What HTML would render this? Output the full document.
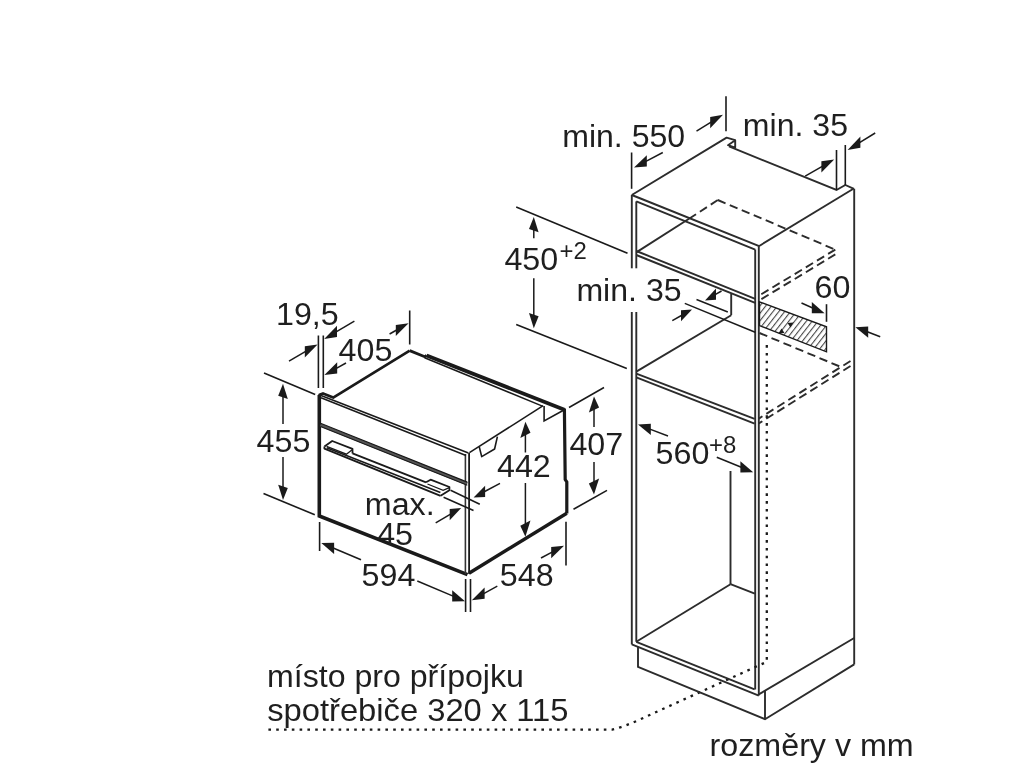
<!DOCTYPE html>
<html lang="cs"><head><meta charset="utf-8"><title>rozměry v mm</title>
<style>
html,body{margin:0;padding:0;background:#fff;}
body{width:1024px;height:768px;overflow:hidden;}
svg{display:block;font-family:"Liberation Sans",sans-serif;fill:#1a1a1a;filter:blur(0.55px);}
svg text{fill:#1f1f1f;}
</style></head><body>
<svg width="1024" height="768" viewBox="0 0 1024 768" fill="none" stroke-linecap="butt">
<path d="M319.3,395 L319.3,516 L467.5,574.6" stroke="#1a1a1a" stroke-width="3.6" fill="none" stroke-linejoin="miter"/>
<path d="M469,573.2 L566.8,513.2" stroke="#1a1a1a" stroke-width="3.4" fill="none" />
<path d="M564.4,408.6 L565.2,479.5 L566.8,482 L566.8,513.6" stroke="#1a1a1a" stroke-width="3.1999999999999997" fill="none" />
<path d="M319.3,396 L319.6,394.8 L323,393.4 L333.2,397.6 L409.7,350.6" stroke="#1a1a1a" stroke-width="2.7" fill="none" stroke-linejoin="round"/>
<path d="M409.7,350.6 L424.8,356.8 L426.6,355.2" stroke="#1a1a1a" stroke-width="2.8" fill="none" stroke-linejoin="round"/>
<path d="M426.6,355.4 L564.4,409.8" stroke="#1a1a1a" stroke-width="3.8" fill="none" />
<line x1="424.6" y1="357.8" x2="542.4" y2="406.1" stroke="#1a1a1a" stroke-width="1.5" />
<path d="M544.1,405.9 L544.1,420.9 L563.5,410.3" stroke="#1a1a1a" stroke-width="1.6" fill="none" />
<line x1="469.4" y1="452.7" x2="543.2" y2="405.7" stroke="#1a1a1a" stroke-width="1.6" />
<line x1="465.4" y1="454" x2="465.4" y2="574" stroke="#333" stroke-width="1.6" />
<line x1="469.1" y1="453" x2="469.1" y2="574" stroke="#1a1a1a" stroke-width="1.8" />
<line x1="321" y1="395.4" x2="468.4" y2="453.0" stroke="#1a1a1a" stroke-width="1.6" />
<line x1="321" y1="397.8" x2="466" y2="455.4" stroke="#1a1a1a" stroke-width="1.6" />
<line x1="320.5" y1="424.9" x2="467.3" y2="483.7" stroke="#555" stroke-width="3.2" />
<line x1="320.5" y1="423.3" x2="467.3" y2="482.1" stroke="#1a1a1a" stroke-width="1.2" />
<line x1="320.5" y1="426.5" x2="467.3" y2="485.3" stroke="#1a1a1a" stroke-width="1.2" />
<path d="M324.4,446.6 L332.2,441 L352.5,448.9 L352.5,453.4" stroke="#1a1a1a" stroke-width="1.8" fill="none" stroke-linejoin="round"/>
<path d="M326.6,446.4 L346.4,454.2 L352.5,449.6" stroke="#1a1a1a" stroke-width="1.3" fill="none" />
<path d="M324.4,446.4 L324.4,448.6 L440.6,495.8" stroke="#1a1a1a" stroke-width="1.8" fill="none" stroke-linejoin="round"/>
<line x1="326.7" y1="447.8" x2="440.4" y2="492.6" stroke="#1a1a1a" stroke-width="1.6" />
<line x1="352.5" y1="453.4" x2="426" y2="482.3" stroke="#1a1a1a" stroke-width="1.8" />
<path d="M426,482.3 L430.6,479.7 L449.4,487 L449.4,490.2 L440.6,495.8" stroke="#1a1a1a" stroke-width="1.8" fill="none" stroke-linejoin="round"/>
<path d="M427.5,484 L443.1,490.4 L449.4,487.6" stroke="#1a1a1a" stroke-width="1.3" fill="none" />
<path d="M479.3,447.0 L481.7,456.6 L494.6,449 L497.4,436.6" stroke="#1a1a1a" stroke-width="1.6" fill="none" stroke-linejoin="round"/>
<line x1="318.4" y1="335.5" x2="318.4" y2="388" stroke="#1a1a1a" stroke-width="1.6" />
<line x1="323.3" y1="335.5" x2="323.3" y2="388" stroke="#1a1a1a" stroke-width="1.6" />
<line x1="289" y1="361.2" x2="305.66" y2="351.41" stroke="#1a1a1a" stroke-width="1.5" />
<polygon points="317.60,344.40 304.80,357.52 304.80,346.32" fill="#1a1a1a"/>
<line x1="354.4" y1="321.2" x2="336.14" y2="331.96" stroke="#1a1a1a" stroke-width="1.5" />
<polygon points="324.20,339.00 337.00,337.06 337.00,325.86" fill="#1a1a1a"/>
<text transform="translate(276.0,325.4) scale(1.04,1)" font-size="31" text-anchor="start">19,5</text>
<line x1="346" y1="363" x2="336.33" y2="368.37" stroke="#1a1a1a" stroke-width="1.5" />
<polygon points="324.40,375.00 337.20,373.49 337.20,362.29" fill="#1a1a1a"/>
<line x1="389.6" y1="334" x2="396.67" y2="329.98" stroke="#1a1a1a" stroke-width="1.5" />
<polygon points="408.60,323.20 395.80,336.08 395.80,324.88" fill="#1a1a1a"/>
<line x1="409.7" y1="310.5" x2="409.7" y2="344.5" stroke="#1a1a1a" stroke-width="1.6" />
<text transform="translate(338.6,361.2) scale(1.04,1)" font-size="31" text-anchor="start">405</text>
<line x1="264" y1="373" x2="315.2" y2="394.5" stroke="#1a1a1a" stroke-width="1.6" />
<line x1="263.5" y1="493.5" x2="314.8" y2="514.8" stroke="#1a1a1a" stroke-width="1.6" />
<line x1="283" y1="424" x2="283.0" y2="396.4" stroke="#1a1a1a" stroke-width="1.5" />
<polygon points="283.00,383.80 287.80,399.10 278.20,395.70" fill="#1a1a1a"/>
<line x1="283" y1="457" x2="283.0" y2="487.4" stroke="#1a1a1a" stroke-width="1.5" />
<polygon points="283.00,500.00 287.80,488.10 278.20,484.70" fill="#1a1a1a"/>
<text transform="translate(256.6,452.2) scale(1.04,1)" font-size="31" text-anchor="start">455</text>
<line x1="319.6" y1="522" x2="319.6" y2="551" stroke="#1a1a1a" stroke-width="1.6" />
<line x1="361" y1="559.8" x2="333.18" y2="548.03" stroke="#1a1a1a" stroke-width="1.5" />
<polygon points="321.30,543.00 334.10,554.02 334.10,542.82" fill="#1a1a1a"/>
<line x1="417.3" y1="581" x2="453.12" y2="596.17" stroke="#1a1a1a" stroke-width="1.5" />
<polygon points="465.00,601.20 452.20,601.38 452.20,590.18" fill="#1a1a1a"/>
<line x1="465.6" y1="579" x2="465.6" y2="612" stroke="#1a1a1a" stroke-width="1.6" />
<line x1="470.5" y1="579" x2="470.5" y2="612" stroke="#1a1a1a" stroke-width="1.6" />
<text transform="translate(361.6,586.0) scale(1.04,1)" font-size="31" text-anchor="start">594</text>
<line x1="497.3" y1="586.2" x2="483.72" y2="593.65" stroke="#1a1a1a" stroke-width="1.5" />
<polygon points="471.80,600.20 484.60,598.77 484.60,587.57" fill="#1a1a1a"/>
<line x1="541" y1="558" x2="552.08" y2="552.12" stroke="#1a1a1a" stroke-width="1.5" />
<polygon points="564.00,545.80 551.20,558.19 551.20,546.99" fill="#1a1a1a"/>
<line x1="566" y1="521.8" x2="566" y2="565.5" stroke="#1a1a1a" stroke-width="1.6" />
<text transform="translate(499.8,586.2) scale(1.04,1)" font-size="31" text-anchor="start">548</text>
<line x1="525.4" y1="452.5" x2="525.4" y2="434.4" stroke="#1a1a1a" stroke-width="1.5" />
<polygon points="525.40,421.80 530.50,432.80 520.30,438.00" fill="#1a1a1a"/>
<line x1="525.4" y1="483" x2="525.4" y2="524.2" stroke="#1a1a1a" stroke-width="1.5" />
<polygon points="525.40,536.80 530.50,520.60 520.30,525.80" fill="#1a1a1a"/>
<text transform="translate(497.0,477.0) scale(1.04,1)" font-size="31" text-anchor="start">442</text>
<line x1="569" y1="407.5" x2="604" y2="387.5" stroke="#1a1a1a" stroke-width="1.6" />
<line x1="573.5" y1="509.2" x2="607" y2="490.4" stroke="#1a1a1a" stroke-width="1.6" />
<line x1="594" y1="427" x2="594.0" y2="409.0" stroke="#1a1a1a" stroke-width="1.5" />
<polygon points="594.00,396.40 599.10,407.40 588.90,412.60" fill="#1a1a1a"/>
<line x1="594" y1="462" x2="594.0" y2="482.0" stroke="#1a1a1a" stroke-width="1.5" />
<polygon points="594.00,494.60 599.10,478.40 588.90,483.60" fill="#1a1a1a"/>
<text transform="translate(569.4,454.6) scale(1.04,1)" font-size="31" text-anchor="start">407</text>
<line x1="450.6" y1="490.3" x2="479.8" y2="504.2" stroke="#1a1a1a" stroke-width="1.5" />
<line x1="443.6" y1="497.3" x2="473.5" y2="510.5" stroke="#1a1a1a" stroke-width="1.5" />
<line x1="500" y1="483.4" x2="484.22" y2="491.77" stroke="#1a1a1a" stroke-width="1.5" />
<polygon points="473.60,497.40 485.10,496.90 485.10,485.70" fill="#1a1a1a"/>
<line x1="435.7" y1="522.8" x2="450.56" y2="514.12" stroke="#1a1a1a" stroke-width="1.5" />
<polygon points="461.20,507.90 449.70,520.22 449.70,509.02" fill="#1a1a1a"/>
<text transform="translate(364.8,515.4) scale(1.04,1)" font-size="31" text-anchor="start">max.</text>
<text transform="translate(377.2,545.4) scale(1.04,1)" font-size="31" text-anchor="start">45</text>
<line x1="631.8" y1="195" x2="631.8" y2="268.3" stroke="#2c2c2c" stroke-width="1.9" />
<line x1="631.8" y1="312" x2="631.8" y2="644.4" stroke="#2c2c2c" stroke-width="1.9" />
<line x1="636.3" y1="201.4" x2="636.3" y2="268.3" stroke="#2c2c2c" stroke-width="1.9" />
<line x1="636.3" y1="312" x2="636.3" y2="641.8" stroke="#2c2c2c" stroke-width="1.9" />
<path d="M631.8,195 L726.6,137.6 L735.2,140.2 L735.2,147.6 L728,145.2 L735.2,140.2" stroke="#2c2c2c" stroke-width="1.9" fill="none" stroke-linejoin="round"/>
<path d="M729,146.4 L836.5,190 L845.3,185 L854,188.8" stroke="#2c2c2c" stroke-width="1.9" fill="none" />
<line x1="631.8" y1="195" x2="759.2" y2="246.2" stroke="#2c2c2c" stroke-width="1.9" />
<line x1="636.3" y1="201.4" x2="755.2" y2="249.6" stroke="#2c2c2c" stroke-width="1.9" />
<line x1="758.8" y1="246.2" x2="853.4" y2="188.8" stroke="#2c2c2c" stroke-width="1.9" />
<line x1="755.2" y1="249.6" x2="755.2" y2="689.6" stroke="#2c2c2c" stroke-width="1.9" />
<line x1="758.8" y1="246.2" x2="758.8" y2="695.6" stroke="#2c2c2c" stroke-width="1.9" />
<line x1="854.2" y1="188.8" x2="854.2" y2="664.4" stroke="#2c2c2c" stroke-width="1.9" />
<line x1="717.8" y1="200" x2="689" y2="218.8" stroke="#2c2c2c" stroke-width="1.9" stroke-dasharray="8.4 4.6"/>
<line x1="717.8" y1="200" x2="835.3" y2="249.6" stroke="#2c2c2c" stroke-width="1.9" stroke-dasharray="8.4 4.6"/>
<line x1="835.3" y1="249.6" x2="759" y2="295.6" stroke="#2c2c2c" stroke-width="1.9" stroke-dasharray="8.4 4.6"/>
<line x1="835.3" y1="254.4" x2="759" y2="300.6" stroke="#2c2c2c" stroke-width="1.9" stroke-dasharray="8.4 4.6"/>
<line x1="636.3" y1="252.4" x2="689" y2="218.8" stroke="#2c2c2c" stroke-width="1.9" />
<line x1="636.3" y1="251" x2="755.2" y2="298.8" stroke="#2c2c2c" stroke-width="1.9" />
<line x1="636.3" y1="255" x2="755.2" y2="302.8" stroke="#2c2c2c" stroke-width="1.9" />
<line x1="731.2" y1="294" x2="731.2" y2="315.2" stroke="#2c2c2c" stroke-width="1.9" />
<line x1="731.2" y1="315.2" x2="636.3" y2="371.6" stroke="#2c2c2c" stroke-width="1.9" />
<line x1="696.5" y1="299.5" x2="727.8" y2="312" stroke="#1a1a1a" stroke-width="1.5" />
<line x1="684.8" y1="303.4" x2="755.2" y2="332.3" stroke="#1a1a1a" stroke-width="1.5" />
<line x1="636.3" y1="373.6" x2="754.6" y2="418.8" stroke="#2c2c2c" stroke-width="1.9" />
<line x1="636.3" y1="377.4" x2="754.6" y2="423.6" stroke="#2c2c2c" stroke-width="1.9" />
<defs><pattern id="h" width="4.6" height="4.6" patternUnits="userSpaceOnUse" patternTransform="rotate(38)"><line x1="0.6" y1="-1" x2="0.6" y2="6" stroke="#2c2c2c" stroke-width="0.95"/></pattern></defs>
<polygon points="759.5,301.8 826.5,326.8 826.5,351.8 759.5,325.6" fill="url(#h)" stroke="#1a1a1a" stroke-width="1.4"/>
<line x1="826.5" y1="304.2" x2="826.5" y2="321.8" stroke="#1a1a1a" stroke-width="1.6" />
<line x1="759.5" y1="333" x2="842" y2="367.4" stroke="#2c2c2c" stroke-width="1.9" stroke-dasharray="8.4 4.6"/>
<line x1="850.5" y1="361" x2="758.8" y2="418.6" stroke="#2c2c2c" stroke-width="1.9" stroke-dasharray="8.4 4.6"/>
<line x1="850.5" y1="366" x2="758.8" y2="423.4" stroke="#2c2c2c" stroke-width="1.9" stroke-dasharray="8.4 4.6"/>
<path d="M268.4,729.6 L612,729.6 Q626,726 640,719.4 L766.8,661.8 L766.8,343" stroke="#1a1a1a" stroke-width="2.3" fill="none" stroke-dasharray="2.6 5.2"/>
<line x1="730.5" y1="471" x2="730.5" y2="584.2" stroke="#2c2c2c" stroke-width="1.9" />
<line x1="636.3" y1="641.8" x2="730.5" y2="584.2" stroke="#2c2c2c" stroke-width="1.9" />
<line x1="730.5" y1="584.2" x2="754.8" y2="593.6" stroke="#2c2c2c" stroke-width="1.9" />
<line x1="631.8" y1="644.4" x2="758.8" y2="695.6" stroke="#2c2c2c" stroke-width="1.9" />
<line x1="636.3" y1="641.8" x2="754.6" y2="689.4" stroke="#2c2c2c" stroke-width="1.9" />
<line x1="758.8" y1="694.4" x2="854.2" y2="638" stroke="#2c2c2c" stroke-width="1.9" />
<path d="M638,646.8 L638,666.8 L765,719.2 L854.2,664.4" stroke="#2c2c2c" stroke-width="1.9" fill="none" />
<line x1="765" y1="691" x2="765" y2="719.2" stroke="#2c2c2c" stroke-width="1.9" />
<line x1="726" y1="96.2" x2="726" y2="131.2" stroke="#1a1a1a" stroke-width="1.6" />
<line x1="631.6" y1="152.5" x2="631.6" y2="188.8" stroke="#1a1a1a" stroke-width="1.6" />
<line x1="696.5" y1="131.2" x2="711.05" y2="122.2" stroke="#1a1a1a" stroke-width="1.5" />
<polygon points="723.00,114.80 710.20,128.32 710.20,117.12" fill="#1a1a1a"/>
<line x1="662.8" y1="152.5" x2="645.91" y2="161.35" stroke="#1a1a1a" stroke-width="1.5" />
<polygon points="634.00,167.60 646.80,166.49 646.80,155.29" fill="#1a1a1a"/>
<text transform="translate(562.2,147.0) scale(1.035,1)" font-size="31" text-anchor="start">min. 550</text>
<line x1="836.5" y1="150" x2="836.5" y2="190" stroke="#1a1a1a" stroke-width="1.6" />
<line x1="845.3" y1="145" x2="845.3" y2="185" stroke="#1a1a1a" stroke-width="1.6" />
<line x1="805.2" y1="176.2" x2="822.27" y2="166.31" stroke="#1a1a1a" stroke-width="1.5" />
<polygon points="834.20,159.40 821.40,172.42 821.40,161.22" fill="#1a1a1a"/>
<line x1="875.2" y1="133" x2="859.55" y2="142.64" stroke="#1a1a1a" stroke-width="1.5" />
<polygon points="847.60,150.00 860.40,147.72 860.40,136.52" fill="#1a1a1a"/>
<text transform="translate(742.8,135.8) scale(1.035,1)" font-size="31" text-anchor="start">min. 35</text>
<line x1="516.2" y1="207" x2="627.5" y2="253.2" stroke="#1a1a1a" stroke-width="1.6" />
<line x1="516.2" y1="324.5" x2="626.8" y2="368.5" stroke="#1a1a1a" stroke-width="1.6" />
<line x1="533.8" y1="238.2" x2="533.8" y2="229.6" stroke="#1a1a1a" stroke-width="1.5" />
<polygon points="533.80,217.00 538.60,232.30 529.00,228.90" fill="#1a1a1a"/>
<line x1="533.8" y1="278.2" x2="533.8" y2="315.6" stroke="#1a1a1a" stroke-width="1.5" />
<polygon points="533.80,328.20 538.60,316.30 529.00,312.90" fill="#1a1a1a"/>
<text transform="translate(504.4,269.8) scale(1.04,1)" font-size="31" text-anchor="start">450</text>
<text transform="translate(559.6,259.0) scale(1.04,1)" font-size="23" text-anchor="start">+2</text>
<line x1="721.5" y1="291" x2="715.13" y2="294.63" stroke="#1a1a1a" stroke-width="1.5" />
<polygon points="705.00,300.40 716.00,299.73 716.00,288.53" fill="#1a1a1a"/>
<line x1="672.3" y1="320.6" x2="681.87" y2="315.25" stroke="#1a1a1a" stroke-width="1.5" />
<polygon points="692.00,309.60 681.00,321.34 681.00,310.14" fill="#1a1a1a"/>
<text transform="translate(576.4,301.4) scale(1.035,1)" font-size="31" text-anchor="start">min. 35</text>
<line x1="801.5" y1="303" x2="812.71" y2="307.95" stroke="#1a1a1a" stroke-width="1.5" />
<polygon points="824.60,313.20 811.80,313.15 811.80,301.95" fill="#1a1a1a"/>
<line x1="880.2" y1="336.8" x2="867.27" y2="331.79" stroke="#1a1a1a" stroke-width="1.5" />
<polygon points="855.40,327.20 868.20,337.75 868.20,326.55" fill="#1a1a1a"/>
<text transform="translate(814.6,297.6) scale(1.04,1)" font-size="31" text-anchor="start">60</text>
<polygon points="793.5,322.5 787.5,323 790.5,327.5" fill="#1a1a1a"/>
<polygon points="778.5,333.5 784.5,333 781.5,328.5" fill="#1a1a1a"/>
<line x1="668" y1="436" x2="649.87" y2="429.11" stroke="#1a1a1a" stroke-width="1.5" />
<polygon points="638.00,424.60 650.80,435.06 650.80,423.86" fill="#1a1a1a"/>
<line x1="716.8" y1="457.2" x2="741.32" y2="467.31" stroke="#1a1a1a" stroke-width="1.5" />
<polygon points="753.20,472.20 740.40,472.53 740.40,461.33" fill="#1a1a1a"/>
<text transform="translate(655.6,464.0) scale(1.04,1)" font-size="31" text-anchor="start">560</text>
<text transform="translate(709.0,453.0) scale(1.04,1)" font-size="23" text-anchor="start">+8</text>
<text transform="translate(267.0,687.2) scale(1.036,1)" font-size="31" text-anchor="start">místo pro přípojku</text>
<text transform="translate(267.2,720.8) scale(1.056,1)" font-size="31" text-anchor="start">spotřebiče 320 x 115</text>
<text transform="translate(709.6,755.8) scale(1.04,1)" font-size="31" text-anchor="start">rozměry v mm</text>
</svg>
</body></html>
